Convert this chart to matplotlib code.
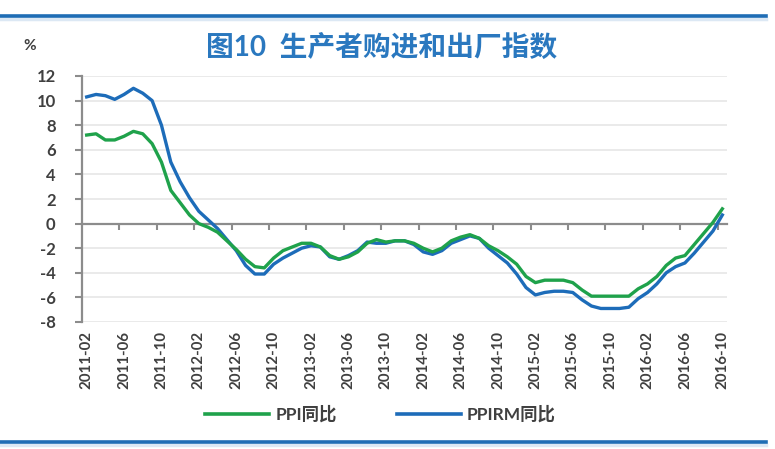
import pandas as pd
from matplotlib import pyplot as plt
from matplotlib.lines import Line2D

plt.rcParams['font.family'] = ['Lato', 'Noto Sans CJK SC', 'DejaVu Sans']

# monthly categories, 2011-02 .. 2016-10
months = pd.date_range("2011-02", "2016-10", freq="MS").strftime("%Y-%m").tolist()

# PPI year-on-year, %
ppi = [7.2, 7.3, 6.8, 6.8, 7.1, 7.5, 7.3, 6.5, 5.0, 2.7, 1.7,
       0.7, 0.0, -0.3, -0.7, -1.4, -2.1, -2.9, -3.5, -3.6, -2.8, -2.2, -1.9,
       -1.6, -1.6, -1.9, -2.6, -2.9, -2.7, -2.3, -1.6, -1.3, -1.5, -1.4, -1.4,
       -1.6, -2.0, -2.3, -2.0, -1.4, -1.1, -0.9, -1.2, -1.8, -2.2, -2.7, -3.3,
       -4.3, -4.8, -4.6, -4.6, -4.6, -4.8, -5.4, -5.9, -5.9, -5.9, -5.9, -5.9,
       -5.3, -4.9, -4.3, -3.4, -2.8, -2.6, -1.7, -0.8, 0.1, 1.2]

# PPIRM year-on-year, %
ppirm = [10.3, 10.5, 10.4, 10.1, 10.5, 11.0, 10.6, 10.0, 8.0, 5.0, 3.4,
         2.1, 1.0, 0.3, -0.4, -1.3, -2.2, -3.4, -4.1, -4.1, -3.3, -2.8, -2.4,
         -2.0, -1.8, -1.9, -2.7, -2.9, -2.6, -2.2, -1.5, -1.6, -1.6, -1.4, -1.4,
         -1.7, -2.3, -2.5, -2.2, -1.6, -1.3, -1.0, -1.2, -2.0, -2.6, -3.2, -4.1,
         -5.2, -5.8, -5.6, -5.5, -5.5, -5.6, -6.2, -6.7, -6.9, -6.9, -6.9, -6.8,
         -6.1, -5.6, -4.9, -4.0, -3.5, -3.2, -2.4, -1.5, -0.6, 0.7]

y_ticks = list(range(-8, 13, 2))

GREEN = "#1fa24b"
BLUE = "#1d6cb9"
FRAME = "#1f6db5"
AXIS_GRAY = "#8c8c8c"
TEXT_GRAY = "#404040"

W, H = 775, 449
fig = plt.figure(figsize=(W / 100, H / 100), dpi=100)
ax = fig.add_axes([82 / W, 1 - 322 / H, 645 / W, 246 / H])

x = list(range(len(months)))
ax.plot(x, ppirm, color=BLUE, linewidth=2.4, solid_joinstyle='round', zorder=3)
ax.plot(x, ppi, color=GREEN, linewidth=2.4, solid_joinstyle='round', zorder=3)

ax.set_xlim(-0.5, len(months) - 0.5)
ax.set_ylim(-8, 12)

# y axis
ax.set_yticks(y_ticks)
ax.set_yticklabels([str(v) for v in y_ticks], fontsize=12, fontweight='bold', color=TEXT_GRAY)
ax.tick_params(axis='y', direction='out', length=5, width=1.5, color=AXIS_GRAY, pad=14)
ax.yaxis.grid(True, color="#e6e6e6", linewidth=1.2, zorder=0)
ax.set_axisbelow(True)

for side in ['top', 'right']:
    ax.spines[side].set_visible(False)
ax.spines['left'].set_color(AXIS_GRAY)
ax.spines['left'].set_linewidth(1.6)
ax.spines['bottom'].set_position(('data', 0))
ax.spines['bottom'].set_color(AXIS_GRAY)
ax.spines['bottom'].set_linewidth(1.6)

# x ticks sit between categories, every 4 months
ax.set_xticks([i + 3.5 for i in range(0, len(months) - 4, 4)])
ax.set_xticklabels([])
ax.tick_params(axis='x', direction='out', length=4, width=1.5, color=AXIS_GRAY)

# category labels along the bottom
for i in range(0, len(months), 4):
    ax.text(i, -0.035, months[i], transform=ax.get_xaxis_transform(), rotation=90,
            ha='center', va='top', fontsize=10.8, fontweight='bold', color=TEXT_GRAY)

# title and unit
fig.text(382 / W, 1 - 47 / H, "图10  生产者购进和出厂指数", ha='center', va='center',
         fontsize=20, fontweight='bold', color="#2a78bf",
         family=['Lato', 'Noto Sans CJK SC'])
fig.text(30 / W, 1 - 46 / H, "%", ha='center', va='center', fontsize=11,
         fontweight='bold', color=TEXT_GRAY)

# legend
ly = 1 - 414 / H
fig.add_artist(Line2D([205 / W, 269 / W], [ly, ly], color=GREEN, linewidth=2.6))
fig.text(276 / W, ly, "PPI同比", ha='left', va='center', fontsize=12.5,
         fontweight='bold', color=TEXT_GRAY)
fig.add_artist(Line2D([397 / W, 461 / W], [ly, ly], color=BLUE, linewidth=2.6))
fig.text(467 / W, ly, "PPIRM同比", ha='left', va='center', fontsize=12.5,
         fontweight='bold', color=TEXT_GRAY)

# frame lines top and bottom
for yy in (15.5, 441.5):
    fig.add_artist(Line2D([0, 766 / W], [1 - (yy + 3) / H, 1 - (yy + 3) / H],
                          color="#dce8f4", linewidth=2.5))
    fig.add_artist(Line2D([0, 766 / W], [1 - yy / H, 1 - yy / H], color=FRAME, linewidth=2.6))

fig.savefig("out.png", dpi=100)
